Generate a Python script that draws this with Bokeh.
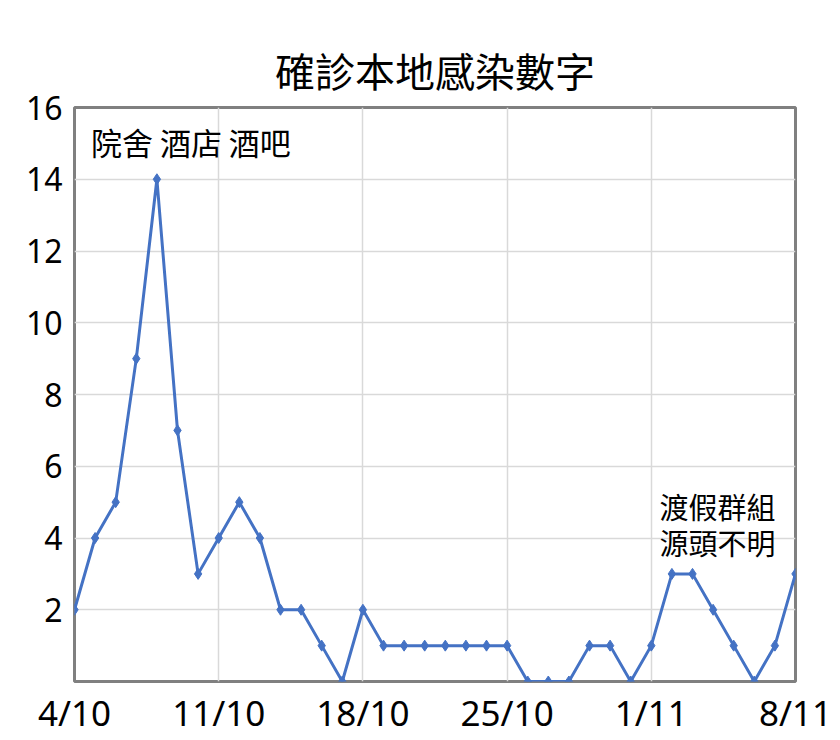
from bokeh.plotting import figure
from bokeh.models import FixedTicker, ColumnDataSource
from bokeh.embed import file_html
from bokeh.resources import INLINE
from bokeh.core.properties import value

# ---- data ----
dates = ["4/10", "5/10", "6/10", "7/10", "8/10", "9/10", "10/10",
         "11/10", "12/10", "13/10", "14/10", "15/10", "16/10", "17/10",
         "18/10", "19/10", "20/10", "21/10", "22/10", "23/10", "24/10",
         "25/10", "26/10", "27/10", "28/10", "29/10", "30/10", "31/10",
         "1/11", "2/11", "3/11", "4/11", "5/11", "6/11", "7/11", "8/11"]
cases = [2, 4, 5, 9, 14, 7, 3,
         4, 5, 4, 2, 2, 1, 0,
         2, 1, 1, 1, 1, 1, 1,
         1, 0, 0, 0, 1, 1, 0,
         1, 3, 3, 2, 1, 0, 1, 3]
tick_labels = ["4/10", "11/10", "18/10", "25/10", "1/11", "8/11"]
y_ticks = [2, 4, 6, 8, 10, 12, 14, 16]
title_text = "確診本地感染數字"
note1 = "院舍 酒店 酒吧"
note2_lines = ["渡假群組", "源頭不明"]

day_index = list(range(len(dates)))
tick_pos = [day_index[dates.index(t)] for t in tick_labels]

src = ColumnDataSource(dict(x=day_index, y=cases, d=dates))

FONT = "Noto Sans"
CJK = "Noto Sans CJK TC"

p = figure(width=832, height=732, output_backend="svg", toolbar_location=None,
           x_range=(0, len(dates) - 1), y_range=(0, 16),
           frame_width=721, frame_height=574,
           min_border_left=74, min_border_right=37,
           min_border_top=107, min_border_bottom=51,
           title=title_text)

p.title.text_font = CJK
p.title.text_font_size = "40px"
p.title.text_font_style = "normal"
p.title.align = "center"
p.title.standoff = 18
p.title.padding = (0, 0, 8, 0)
p.title.text_color = "black"

p.outline_line_color = "#808080"
p.outline_line_width = 3

p.xaxis.ticker = FixedTicker(ticks=tick_pos)
p.xaxis.major_label_overrides = {pos: lab for pos, lab in zip(tick_pos, tick_labels)}
p.yaxis.ticker = FixedTicker(ticks=y_ticks)

for ax in (p.xaxis, p.yaxis):
    ax.axis_line_color = None
    ax.major_tick_line_color = None
    ax.minor_tick_line_color = None
    ax.major_label_text_font = FONT
    ax.major_label_text_color = "black"

p.xaxis.major_label_text_font_size = "35px"
p.xaxis.major_label_standoff = 1
p.yaxis.major_label_text_font_size = "32px"
p.yaxis.major_label_standoff = 6

p.xgrid.ticker = FixedTicker(ticks=tick_pos)
p.ygrid.ticker = FixedTicker(ticks=y_ticks)
p.grid.grid_line_color = "#d9d9d9"
p.grid.grid_line_width = 1.5

p.line("x", "y", source=src, line_color="#4472C4", line_width=3)
p.scatter("x", "y", source=src, marker="diamond", size=11,
          fill_color="#4472C4", line_color="#4472C4")

p.text(x=[0.8], y=[15.05], text=[note1], text_font=value(CJK),
       text_font_size="31px", text_baseline="middle", text_align="left",
       text_color="black")
p.text(x=[28.4, 28.4], y=[4.9, 3.88], text=note2_lines, text_font=value(CJK),
       text_font_size="29px", text_baseline="middle", text_align="left",
       text_color="black")

open("out.html", "w").write(file_html(p, INLINE))
